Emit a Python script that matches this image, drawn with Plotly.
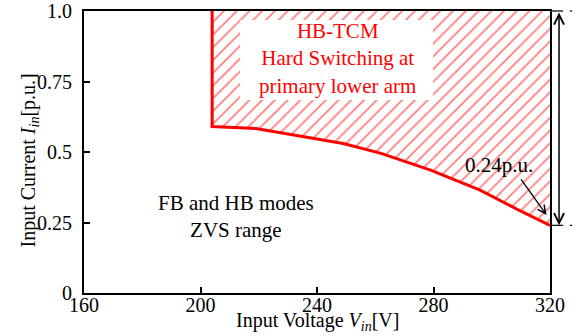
import plotly.graph_objects as go

# ---- data ----
boundary_v = [204, 204, 219, 235, 249, 262, 279, 296, 310, 320]
boundary_i = [1.0, 0.59, 0.583, 0.556, 0.53, 0.495, 0.436, 0.365, 0.29, 0.24]
x_ticks = [160, 200, 240, 280, 320]
y_ticks = [0, 0.25, 0.5, 0.75, 1.0]
y_ticktext = ["0", "0.25", "0.5", "0.75", "1.0"]
min_current = 0.24
dim_v = 323.1

FONT = "Liberation Serif"
RED = "#ff0000"
W, H = 579, 336
ML, MR, MT, MB = 84, 29, 11, 43
PLOT_W = W - ML - MR
PLOT_H = H - MT - MB

fig = go.Figure()

# hatched hard-switching region
fig.add_trace(go.Scatter(
    x=boundary_v + [320], y=boundary_i + [1.0],
    mode="lines", fill="toself", line=dict(width=0, color=RED),
    fillcolor="rgba(0,0,0,0)",
    fillpattern=dict(shape="/", fgcolor=RED, bgcolor="rgba(0,0,0,0)",
                     size=9, solidity=0.2),
    hoverinfo="skip", showlegend=False))

# boundary line
fig.add_trace(go.Scatter(
    x=boundary_v, y=boundary_i, mode="lines",
    line=dict(color=RED, width=3), showlegend=False, hoverinfo="skip"))

def px(v):
    return (v - 160) / 160

shapes = [
    # white box behind label
    dict(type="rect", xref="x", yref="y", x0=213.6, x1=279.8, y0=0.684, y1=0.968,
         fillcolor="white", line=dict(width=0), layer="above"),
    # dimension extension lines
    dict(type="line", xref="paper", yref="paper", x0=1.0, x1=px(324.5),
         y0=1.0, y1=1.0, line=dict(color="black", width=1.2)),
    dict(type="line", xref="paper", yref="paper", x0=px(326.8), x1=px(327.6),
         y0=1.0, y1=1.0, line=dict(color="black", width=1.2)),
    dict(type="line", xref="paper", yref="paper", x0=1.0, x1=px(324.5),
         y0=min_current, y1=min_current, line=dict(color="black", width=1.2)),
    dict(type="line", xref="paper", yref="paper", x0=px(326.8), x1=px(327.6),
         y0=min_current, y1=min_current, line=dict(color="black", width=1.2)),
]

annotations = [
    dict(x=246.9, y=0.833, xref="x", yref="y", showarrow=False,
         text="HB-TCM<br>Hard Switching at<br>primary lower arm",
         font=dict(family=FONT, size=21, color=RED), align="center"),
    dict(x=212.2, y=0.273, xref="x", yref="y", showarrow=False,
         text="FB and HB modes<br>ZVS range",
         font=dict(family=FONT, size=21, color="black"), align="center"),
    dict(x=302.5, y=0.454, xref="x", yref="y", showarrow=False,
         text="0.24p.u.", font=dict(family=FONT, size=21, color="black")),
    # arrow to min current point
    dict(x=318.8, y=0.277, xref="x", yref="y", ax=309.7, ay=0.408, axref="x", ayref="y",
         text="", showarrow=True, arrowhead=5, arrowsize=1.2, arrowwidth=1.3,
         arrowcolor="black"),
    # dimension arrow (paper ref so it is not hidden outside the x range)
    dict(x=px(dim_v), y=min_current, xref="paper", yref="paper",
         ax=0, ay=-(1.0 - min_current) * PLOT_H,
         text="", showarrow=True, arrowside="end+start", arrowhead=5, startarrowhead=5,
         arrowsize=1.3, startarrowsize=1.3, arrowwidth=1.5, arrowcolor="black"),
    # axis titles
    dict(x=0.5, y=-14 / PLOT_H, xref="paper", yref="paper", showarrow=False,
         xanchor="center", yanchor="top",
         text="Input Voltage <i>V</i><sub><i>in</i></sub>[V]",
         font=dict(family=FONT, size=20, color="black")),
    dict(x=-55 / PLOT_W, y=0.47, xref="paper", yref="paper", showarrow=False,
         xanchor="center", yanchor="middle", textangle=-90,
         text="Input Current <i>I</i><sub><i>in</i></sub>[p.u.]",
         font=dict(family=FONT, size=20, color="black")),
]

fig.update_layout(
    width=W, height=H,
    margin=dict(l=ML, r=MR, t=MT, b=MB, autoexpand=False),
    paper_bgcolor="white", plot_bgcolor="white",
    font=dict(family=FONT, size=20, color="black"),
    shapes=shapes, annotations=annotations, showlegend=False,
)
common = dict(ticks="inside", ticklen=6, tickwidth=1.5, tickcolor="black",
              showline=True, linecolor="black", linewidth=2, mirror=True,
              showgrid=False, zeroline=False, automargin=False,
              ticklabeloverflow="allow", tickfont=dict(family=FONT, size=20))
fig.update_xaxes(range=[160, 320], tickvals=x_ticks, ticklabelstandoff=-7, **common)
fig.update_yaxes(range=[0, 1.0], tickvals=y_ticks, ticktext=y_ticktext,
                 ticklabelstandoff=6, **common)

fig.write_html("out.html", config={"displayModeBar": False},
               post_script="document.body.style.margin='0';")
